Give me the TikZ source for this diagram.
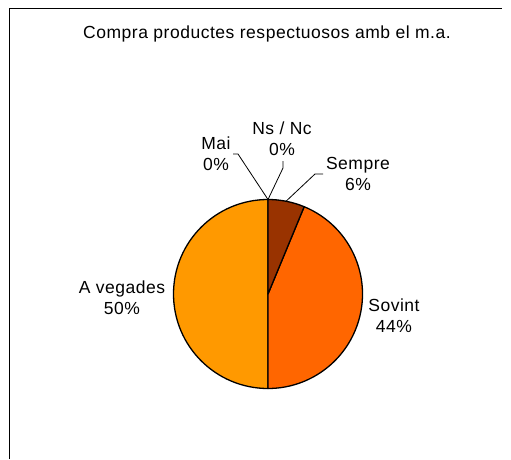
\documentclass[tikz,border=0pt]{standalone}
\usepackage{fontspec}
\setmainfont{Liberation Sans}[LetterSpace=3]
\usetikzlibrary{calc}
\definecolor{csempre}{HTML}{993300}
\definecolor{csovint}{HTML}{FF6600}
\definecolor{cvegades}{HTML}{FF9900}
\begin{document}
\begin{tikzpicture}[x=1pt,y=1pt,
  lbl/.style={font=\fontsize{17.5}{21}\selectfont, align=center, inner sep=0pt},
  leader/.style={line width=0.8pt},
  slice/.style={draw=black, line width=1.3pt, line join=round}]
\useasboundingbox (0,0) rectangle (511,459);
\draw[line width=1pt] (9,0) -- (9,450) -- (502,450);
\coordinate (c) at (268,165);
\def\R{94.5}
\filldraw[slice, fill=cvegades] (c) -- ++(90:\R) arc[start angle=90, end angle=270, radius=\R] -- cycle;
\filldraw[slice, fill=csovint] (c) -- ++(67.5:\R) arc[start angle=67.5, end angle=-90, radius=\R] -- cycle;
\filldraw[slice, fill=csempre] (c) -- ++(90:\R) arc[start angle=90, end angle=67.5, radius=\R] -- cycle;
\coordinate (top) at ($(c)+(90:\R)$);
\node[lbl] (title) at (267,425) {Compra productes respectuosos amb el m.a.};
\node[lbl] (nsnc) at (282,320) {Ns / Nc\\0\%};
\node[lbl] (mai) at (216,305) {Mai\\0\%};
\node[lbl] (sempre) at (358,285) {Sempre\\6\%};
\node[lbl] (sovint) at (394,143) {Sovint\\44\%};
\node[lbl] (vegades) at (122,161) {A vegades\\50\%};
\coordinate (maiA) at (233,305);
\coordinate (maiB) at (238,305);
\coordinate (nsA) at (283,298);
\coordinate (nsB) at (283,291);
\coordinate (seA) at (323,285);
\coordinate (seB) at (315,285);
\coordinate (seC) at ($(c)+(79:\R)$);
\draw[leader] (maiA) -- (maiB) -- (top);
\draw[leader] (nsA) -- (nsB) -- (top);
\draw[leader] (seA) -- (seB) -- (seC);
\end{tikzpicture}
\end{document}
